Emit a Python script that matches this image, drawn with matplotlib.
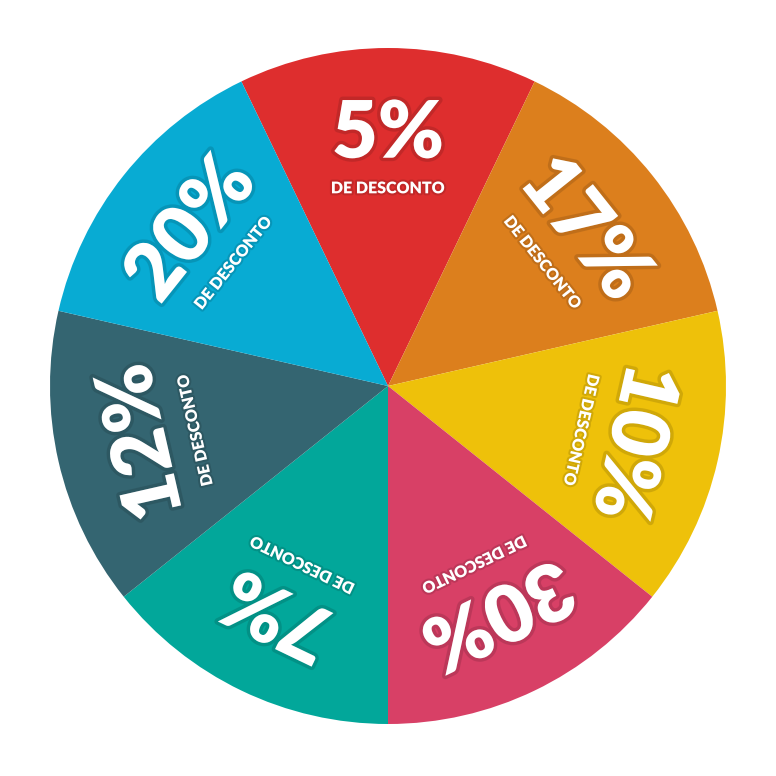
import matplotlib
matplotlib.use("Agg")
import matplotlib.pyplot as plt
import matplotlib.patheffects as pe
import numpy as np
from matplotlib import colors as mcolors

labels = ["5%", "17%", "10%", "30%", "7%", "12%", "20%"]
subtitle = "DE DESCONTO"
slice_colors = ["#DE2E2E", "#DC7F1D", "#EEC10A", "#D84066", "#02A79A", "#346571", "#08ABD3"]
weights = [1, 1, 1, 1, 1, 1, 1]

fig = plt.figure(figsize=(7.76, 7.76), dpi=100)
ax = fig.add_axes([0, 0, 1, 1])
n = len(weights)
span = 360.0 / n
ax.pie(weights, colors=slice_colors, startangle=90 + span / 2, counterclock=False,
       radius=1.0, wedgeprops=dict(linewidth=0))
R = 338.0
ax.set_xlim(-388 / R, 388 / R)
ax.set_ylim(-390 / R, 386 / R)
ax.set_aspect("equal")
ax.axis("off")

def darker(c, f=0.75):
    r, g, b = mcolors.to_rgb(c)
    return (r * f, g * f, b * f)

for i, (lab, col) in enumerate(zip(labels, slice_colors)):
    theta = 90 - i * span
    t = np.radians(theta)
    rot = theta - 90
    rb = 0.745
    rs = 0.585
    eff = [pe.withStroke(linewidth=5, foreground=darker(col), alpha=0.5)]
    ax.text(rb * np.cos(t), rb * np.sin(t), lab, rotation=rot, rotation_mode="anchor",
            ha="center", va="center", color="white", fontsize=57,
            fontweight="heavy", family=["Lato", "DejaVu Sans"], path_effects=eff)
    eff2 = [pe.withStroke(linewidth=3, foreground=darker(col), alpha=0.5)]
    ax.text(rs * np.cos(t), rs * np.sin(t), subtitle, rotation=rot, rotation_mode="anchor",
            ha="center", va="center", color="white", fontsize=11.5,
            fontweight="heavy", family=["Lato", "DejaVu Sans"], path_effects=eff2)

fig.savefig("out.png", dpi=100, facecolor="white")
